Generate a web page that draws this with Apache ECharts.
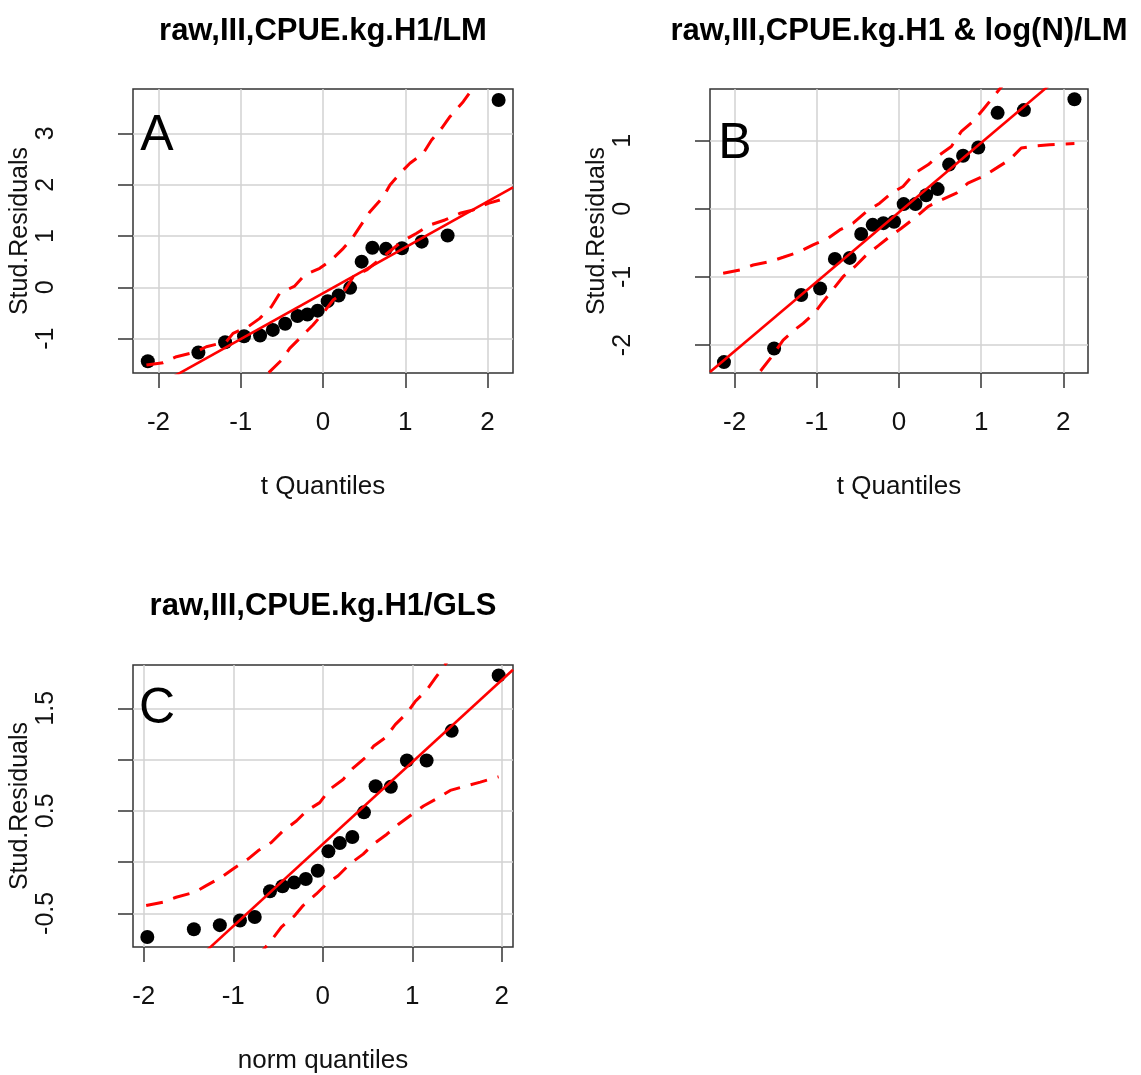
<!DOCTYPE html>
<html>
<head>
<meta charset="utf-8">
<script src="https://cdn.jsdelivr.net/npm/echarts@6/dist/echarts.min.js"></script>
<style>
html,body{margin:0;padding:0;background:#fff;}
#chart{width:1141px;height:1075px;}
</style>
</head>
<body>
<div id="chart"></div>
<script>
// ---------- Panel A: raw,III,CPUE.kg.H1/LM ----------
const quantA = [-2.13,-1.515,-1.19,-0.96,-0.765,-0.61,-0.46,-0.31,-0.19,-0.065,0.057,0.19,0.33,0.47,0.60,0.765,0.96,1.20,1.515,2.135];
const residA = [-1.44,-1.27,-1.07,-0.955,-0.94,-0.83,-0.71,-0.56,-0.53,-0.455,-0.27,-0.16,-0.01,0.50,0.77,0.75,0.76,0.89,1.01,3.65];
const refLineA = [-0.116, 0.893]; // intercept, slope
const envUpperA = [[-2.147,-1.515],[-1.944,-1.47],[-1.782,-1.353],[-1.54,-1.255],[-1.418,-1.158],[-1.175,-1.06],[-1.094,-0.897],[-0.911,-0.768],[-0.769,-0.605],[-0.628,-0.378],[-0.526,-0.117],[-0.344,0.025],[-0.222,0.24],[-0.04,0.37],[0.101,0.532],[0.247,0.76],[0.368,0.987],[0.49,1.28],[0.571,1.474],[0.733,1.766],[0.814,1.994],[0.956,2.253],[1.057,2.417],[1.219,2.612],[1.32,2.871],[1.442,3.1],[1.543,3.326],[1.705,3.618],[1.807,3.846],[2.135,4.5]];
const envLowerA = [[-0.9,-2.05],[-0.668,-1.676],[-0.502,-1.417],[-0.405,-1.189],[-0.264,-0.963],[-0.122,-0.735],[0.0,-0.507],[0.122,-0.248],[0.243,-0.117],[0.368,0.207],[0.531,0.337],[0.956,0.889],[1.138,1.053],[1.30,1.214],[1.482,1.312],[1.665,1.442],[1.826,1.507],[2.009,1.637],[2.15,1.702]];

// ---------- Panel B: raw,III,CPUE.kg.H1 & log(N)/LM ----------
const quantB = [-2.13,-1.52,-1.19,-0.96,-0.78,-0.60,-0.46,-0.32,-0.19,-0.06,0.057,0.20,0.33,0.47,0.61,0.78,0.965,1.20,1.52,2.135];
const residB = [-2.25,-2.05,-1.265,-1.17,-0.735,-0.72,-0.37,-0.235,-0.21,-0.19,0.07,0.07,0.20,0.29,0.65,0.78,0.90,1.41,1.45,1.61];
const refLineB = [-0.05, 1.02];
const envUpperB = [[-2.14,-0.946],[-1.937,-0.897],[-1.775,-0.824],[-1.572,-0.775],[-1.41,-0.711],[-1.207,-0.627],[-1.046,-0.529],[-0.863,-0.431],[-0.721,-0.309],[-0.559,-0.211],[-0.396,-0.039],[-0.235,0.083],[-0.092,0.23],[0.049,0.328],[0.191,0.525],[0.353,0.647],[0.495,0.794],[0.637,0.916],[0.759,1.137],[0.9,1.284],[1.021,1.456],[1.143,1.637],[1.52,2.2]];
const envLowerB = [[-1.9,-2.7],[-1.694,-2.393],[-1.551,-2.172],[-1.41,-1.926],[-1.247,-1.754],[-1.167,-1.681],[-1.025,-1.525],[-0.924,-1.363],[-0.802,-1.181],[-0.681,-0.996],[-0.539,-0.849],[-0.396,-0.676],[-0.255,-0.544],[-0.113,-0.407],[0.029,-0.284],[0.212,-0.113],[0.353,0.034],[0.515,0.132],[0.698,0.231],[0.839,0.378],[1.021,0.475],[1.184,0.598],[1.346,0.721],[1.488,0.893],[1.67,0.926],[1.832,0.941],[2.135,0.96]];

// ---------- Panel C: raw,III,CPUE.kg.H1/GLS ----------
const quantC = [-1.96,-1.44,-1.15,-0.925,-0.76,-0.59,-0.45,-0.32,-0.19,-0.056,0.063,0.19,0.33,0.46,0.59,0.76,0.94,1.16,1.44,1.965];
const residC = [-0.73,-0.655,-0.615,-0.57,-0.535,-0.285,-0.235,-0.20,-0.165,-0.085,0.105,0.185,0.245,0.485,0.74,0.735,0.99,0.99,1.28,1.82];
const refLineC = [0.175, 0.80];
const envUpperC = [[-1.973,-0.424],[-1.786,-0.391],[-1.638,-0.343],[-1.432,-0.294],[-1.302,-0.23],[-1.134,-0.149],[-1.003,-0.068],[-0.836,0.029],[-0.724,0.11],[-0.575,0.191],[-0.444,0.304],[-0.295,0.401],[-0.183,0.498],[-0.034,0.58],[0.078,0.709],[0.227,0.806],[0.342,0.919],[0.473,1.017],[0.566,1.129],[0.697,1.211],[0.809,1.34],[0.94,1.453],[1.032,1.566],[1.163,1.68],[1.256,1.793],[1.349,1.906],[1.6,2.2]];
const envLowerC = [[-0.95,-1.15],[-0.687,-0.877],[-0.575,-0.764],[-0.463,-0.634],[-0.313,-0.521],[-0.22,-0.424],[-0.072,-0.311],[0.04,-0.214],[0.171,-0.133],[0.302,-0.019],[0.451,0.078],[0.566,0.175],[0.716,0.272],[0.846,0.369],[0.996,0.466],[1.125,0.547],[1.293,0.628],[1.424,0.699],[1.592,0.741],[1.76,0.78],[1.964,0.832]];

// ---------- axis ranges and tick labels ----------
const xRangeA = [-2.31, 2.31], yRangeA = [-1.67, 3.865];
const xRangeB = [-2.30, 2.30], yRangeB = [-2.41, 1.76];
const xRangeC = [-2.12, 2.125], yRangeC = [-0.828, 1.922];
const xTicks = [-2, -1, 0, 1, 2];
const yTicksA = [-1, 0, 1, 2, 3];
const yTicksB = [-2, -1, 0, 1];
const yTicksC = [-0.5, 0, 0.5, 1, 1.5];
const yLabelsC = [-0.5, 0.5, 1.5];

const titles = ['raw,III,CPUE.kg.H1/LM', 'raw,III,CPUE.kg.H1 & log(N)/LM', 'raw,III,CPUE.kg.H1/GLS'];
const letters = ['A', 'B', 'C'];
const xNames = ['t Quantiles', 't Quantiles', 'norm quantiles'];
const yName = 'Stud.Residuals';

const FONT = '"Liberation Sans", Arial, Helvetica, sans-serif';
const RED = '#ff0000';
const TXT = '#111';

const panels = [
  {grid: {left: 133, top: 89, width: 380, height: 284}, x: quantA, y: residA, ref: refLineA, up: envUpperA, lo: envLowerA, xr: xRangeA, yr: yRangeA, yt: yTicksA, yl: yTicksA},
  {grid: {left: 710, top: 89, width: 378, height: 284}, x: quantB, y: residB, ref: refLineB, up: envUpperB, lo: envLowerB, xr: xRangeB, yr: yRangeB, yt: yTicksB, yl: yTicksB},
  {grid: {left: 133, top: 665, width: 380, height: 283}, x: quantC, y: residC, ref: refLineC, up: envUpperC, lo: envLowerC, xr: xRangeC, yr: yRangeC, yt: yTicksC, yl: yLabelsC}
];

const grids = [], xAxes = [], yAxes = [], series = [];

panels.forEach((p, i) => {
  grids.push(Object.assign({show: true, borderColor: '#333', borderWidth: 1.5, backgroundColor: 'transparent'}, p.grid));

  xAxes.push({
    type: 'value', gridIndex: i, min: p.xr[0], max: p.xr[1],
    name: xNames[i], nameLocation: 'middle', nameGap: 101,
    nameTextStyle: {fontFamily: FONT, fontSize: 26, color: TXT},
    axisLine: {show: false, onZero: false},
    axisTick: {show: true, inside: false, length: 15, customValues: xTicks, lineStyle: {color: '#333', width: 1.5}},
    axisLabel: {fontFamily: FONT, fontSize: 26, color: TXT, margin: 37, customValues: xTicks},
    splitLine: {show: true, lineStyle: {color: '#d2d2d2', width: 1.5}}
  });

  yAxes.push({
    type: 'value', gridIndex: i, min: p.yr[0], max: p.yr[1],
    name: yName, nameLocation: 'middle', nameGap: 97,
    nameTextStyle: {fontFamily: FONT, fontSize: 25, color: TXT},
    axisLine: {show: false, onZero: false},
    axisTick: {show: true, inside: false, length: 15, customValues: p.yt, lineStyle: {color: '#333', width: 1.5}},
    axisLabel: {fontFamily: FONT, fontSize: 25, color: TXT, margin: 74, rotate: 90, customValues: p.yl},
    splitLine: {show: true, lineStyle: {color: '#d2d2d2', width: 1.5}}
  });

  // observed studentized residuals
  series.push({
    type: 'scatter', xAxisIndex: i, yAxisIndex: i, z: 2,
    symbol: 'circle', symbolSize: 14,
    itemStyle: {color: '#000', opacity: 1},
    data: p.x.map((v, k) => [v, p.y[k]])
  });
  // fitted reference line
  series.push({
    type: 'line', xAxisIndex: i, yAxisIndex: i, z: 3, showSymbol: false, symbol: 'none',
    lineStyle: {color: RED, width: 2.6},
    data: [[p.xr[0], p.ref[0] + p.ref[1] * p.xr[0]], [p.xr[1], p.ref[0] + p.ref[1] * p.xr[1]]]
  });
  // confidence envelope
  [p.up, p.lo].forEach(env => {
    series.push({
      type: 'line', xAxisIndex: i, yAxisIndex: i, z: 3, showSymbol: false, symbol: 'none',
      lineStyle: {color: RED, width: 3, type: [17, 11]},
      data: env
    });
  });
});

const textStyle = (txt, font) => ({text: txt, font: font, fill: '#000', align: 'center', verticalAlign: 'middle', textAlign: 'center', textVerticalAlign: 'middle'});
const graphic = [
  {type: 'text', x: 323, y: 31, style: textStyle(titles[0], 'bold 31px ' + FONT)},
  {type: 'text', x: 899, y: 31, style: textStyle(titles[1], 'bold 31px ' + FONT)},
  {type: 'text', x: 323, y: 606, style: textStyle(titles[2], 'bold 31px ' + FONT)},
  {type: 'text', x: 157, y: 136, z: 10, style: textStyle(letters[0], '50px ' + FONT)},
  {type: 'text', x: 735, y: 144, z: 10, style: textStyle(letters[1], '50px ' + FONT)},
  {type: 'text', x: 157, y: 709, z: 10, style: textStyle(letters[2], '50px ' + FONT)}
];

const chart = echarts.init(document.getElementById('chart'), null, {renderer: 'canvas'});
chart.setOption({
  animation: false,
  backgroundColor: '#fff',
  grid: grids,
  xAxis: xAxes,
  yAxis: yAxes,
  series: series,
  graphic: graphic
});
</script>
</body>
</html>
